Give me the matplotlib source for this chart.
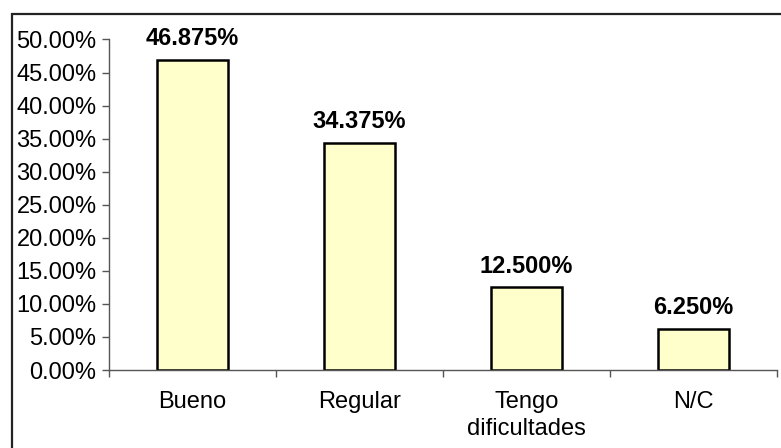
import matplotlib
matplotlib.use("Agg")
import matplotlib.pyplot as plt
from matplotlib.patches import Rectangle
from matplotlib.ticker import FixedLocator, NullFormatter

categories = ["Bueno", "Regular", "Tengo\ndificultades", "N/C"]
values = [46.875, 34.375, 12.500, 6.250]
value_labels = ["46.875%", "34.375%", "12.500%", "6.250%"]
yticks = [0, 5, 10, 15, 20, 25, 30, 35, 40, 45, 50]
ytick_labels = ["0.00%", "5.00%", "10.00%", "15.00%", "20.00%", "25.00%",
                "30.00%", "35.00%", "40.00%", "45.00%", "50.00%"]

plt.rcParams['font.family'] = ['Liberation Sans', 'DejaVu Sans']

W, H = 781, 448
fig = plt.figure(figsize=(W / 100, H / 100), dpi=100)

# outer frame (only top/left visible in the image)
fig.patches.append(Rectangle((12 / W, -0.1), 1.2, (H - 14) / H + 0.1,
                             transform=fig.transFigure, fill=False,
                             edgecolor="#222222", linewidth=1.6, zorder=0))

ax = fig.add_axes([109 / W, (H - 370) / H, (777 - 109) / W, (370 - 39.5) / H])
x = list(range(len(categories)))
ax.bar(x, values, width=0.42, color="#FFFFCC", edgecolor="black", linewidth=1.8, zorder=2)

for xi, v, lab in zip(x, values, value_labels):
    ax.annotate(lab, (xi, v), xytext=(0, 7), textcoords="offset points",
                ha="center", va="bottom", fontsize=17, fontweight="bold")

ax.set_xlim(-0.5, len(categories) - 0.5)
ax.set_ylim(0, 50)
ax.set_yticks(yticks)
ax.set_yticklabels(ytick_labels, fontsize=17)

ax.xaxis.set_major_locator(FixedLocator([i + 0.5 for i in range(-1, len(categories))]))
ax.xaxis.set_major_formatter(NullFormatter())
ax.set_xticks(x, minor=True)
ax.set_xticklabels(categories, minor=True, fontsize=17, linespacing=1.3)
ax.tick_params(axis="x", which="minor", length=0, pad=15)
ax.tick_params(axis="x", which="major", length=5, width=1, color="#555555", direction="out")
ax.tick_params(axis="y", length=5, width=1, color="#555555", direction="out", pad=4)

for s in ["top", "right"]:
    ax.spines[s].set_visible(False)
for s in ["left", "bottom"]:
    ax.spines[s].set_color("#555555")
    ax.spines[s].set_linewidth(1)

fig.savefig("out.png", dpi=100)
